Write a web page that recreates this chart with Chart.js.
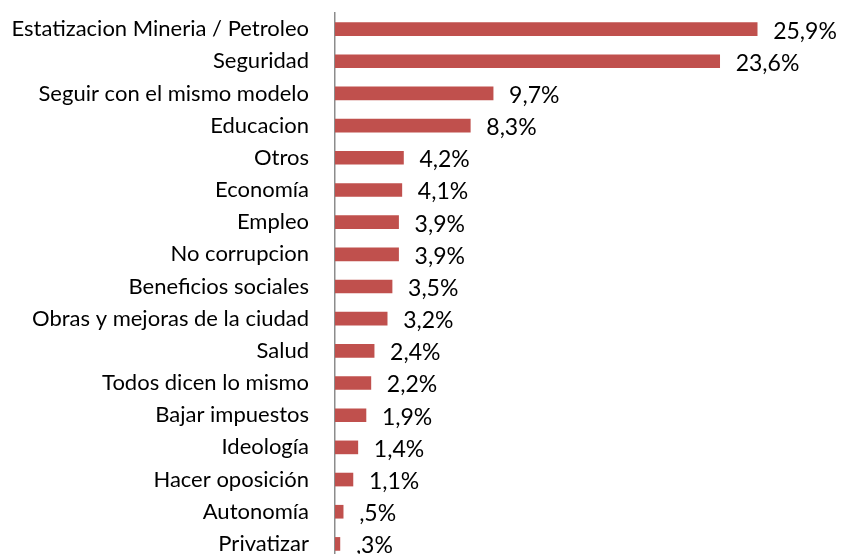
<!DOCTYPE html>
<html>
<head>
<meta charset="utf-8">
<script src="https://cdn.jsdelivr.net/npm/chart.js@4.4.0/dist/chart.umd.min.js"></script>
<style>
  html, body { margin: 0; padding: 0; background: #fff; overflow: hidden; }
  #wrap { width: 842px; height: 561px; }
</style>
</head>
<body>
<div id="wrap"><canvas id="chart" width="842" height="561"></canvas></div>
<script>
  // data
  const categories = [
    "Estatizacion Mineria / Petroleo",
    "Seguridad",
    "Seguir con el mismo modelo",
    "Educacion",
    "Otros",
    "Economía",
    "Empleo",
    "No corrupcion",
    "Beneficios sociales",
    "Obras y mejoras de la ciudad",
    "Salud",
    "Todos dicen lo mismo",
    "Bajar impuestos",
    "Ideología",
    "Hacer oposición",
    "Autonomía",
    "Privatizar"
  ];
  const values = [25.9, 23.6, 9.7, 8.3, 4.2, 4.1, 3.9, 3.9, 3.5, 3.2, 2.4, 2.2, 1.9, 1.4, 1.1, 0.5, 0.3];

  const FONT = "Lato, 'Noto Sans', sans-serif";

  function fmtPct(v) {
    let s = v.toFixed(1).replace(".", ",");
    if (s.startsWith("0")) s = s.slice(1);
    return s + "%";
  }

  // value labels next to each bar
  const valueLabels = {
    id: "valueLabels",
    afterDatasetsDraw(chart) {
      const ctx = chart.ctx;
      const meta = chart.getDatasetMeta(0);
      ctx.save();
      ctx.font = "23px " + FONT;
      ctx.fillStyle = "#000";
      ctx.textAlign = "left";
      ctx.textBaseline = "middle";
      meta.data.forEach((bar, i) => {
        ctx.fillText(fmtPct(values[i]), bar.x + 16, bar.y + 2);
      });
      ctx.restore();
    }
  };

  new Chart(document.getElementById("chart").getContext("2d"), {
    type: "bar",
    data: {
      labels: categories,
      datasets: [{
        data: values,
        backgroundColor: "#C0504D",
        borderWidth: 0,
        barThickness: 13
      }]
    },
    options: {
      indexAxis: "y",
      responsive: false,
      animation: false,
      layout: { padding: { top: 13, bottom: 1, left: 0, right: 18 } },
      plugins: { legend: { display: false }, tooltip: { enabled: false } },
      scales: {
        x: {
          display: false,
          min: 0,
          max: 30
        },
        y: {
          afterFit(scale) {
            scale.width = 335;
            scale.paddingTop = 0;
            scale.paddingBottom = 0;
          },
          grid: { display: false, drawTicks: false },
          border: { display: true, color: "#8c8c8c", width: 1.5 },
          ticks: {
            color: "#000",
            padding: 26,
            font: { family: FONT, size: 22 }
          }
        }
      }
    },
    plugins: [valueLabels]
  });
</script>
</body>
</html>
